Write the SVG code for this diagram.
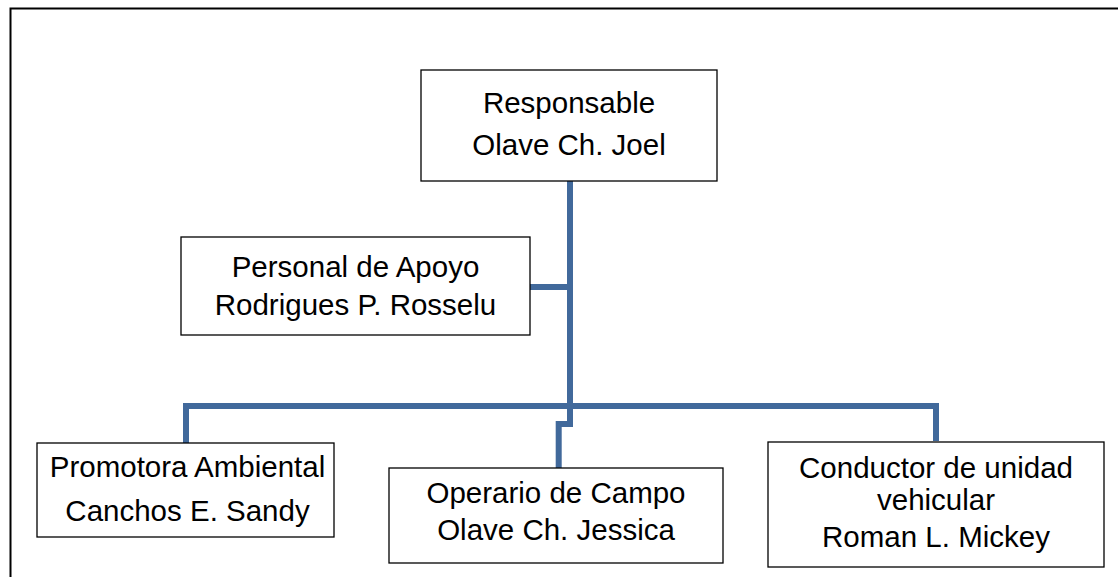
<svg xmlns="http://www.w3.org/2000/svg" width="1118" height="577" viewBox="0 0 1118 577">
<style>
.box{fill:#fff;stroke:#000;stroke-width:1.3}
.t{font-family:"Liberation Sans",Arial,sans-serif;font-size:29.5px;fill:#000;text-anchor:middle}
.c{fill:none;stroke:#41699B;stroke-width:6;stroke-linejoin:miter;stroke-linecap:butt}
.frame{fill:none;stroke:#000;stroke-width:2}
</style>
<rect x="0" y="0" width="1118" height="577" fill="#fff"/>
<path class="frame" d="M10.5,577 V8.5 H1118"/>
<g id="connectors">
  <path class="c" d="M570,181 V406"/>
  <path class="c" d="M530,287 H570"/>
  <path class="c" d="M186,443 V406 H936 V441"/>
  <path class="c" d="M570,406 V424 H558.7 V468"/>
</g>
<g id="responsable">
  <rect class="box" x="421" y="70" width="296" height="111"/>
  <text class="t" x="569" y="113">Responsable</text>
  <text class="t" x="569" y="155">Olave Ch. Joel</text>
</g>
<g id="apoyo">
  <rect class="box" x="181" y="237" width="349" height="98"/>
  <text class="t" x="355.5" y="277">Personal de Apoyo</text>
  <text class="t" x="355.5" y="315">Rodrigues P. Rosselu</text>
</g>
<g id="promotora">
  <rect class="box" x="37" y="443" width="297" height="94"/>
  <text class="t" x="187.5" y="477">Promotora Ambiental</text>
  <text class="t" x="187.5" y="521">Canchos E. Sandy</text>
</g>
<g id="operario">
  <rect class="box" x="389" y="468" width="334" height="95"/>
  <text class="t" x="556" y="503">Operario de Campo</text>
  <text class="t" x="556" y="540">Olave Ch. Jessica</text>
</g>
<g id="conductor">
  <rect class="box" x="768" y="442" width="336" height="125"/>
  <text class="t" x="936" y="478">Conductor de unidad</text>
  <text class="t" x="936" y="510">vehicular</text>
  <text class="t" x="936" y="547">Roman L. Mickey</text>
</g>
</svg>
